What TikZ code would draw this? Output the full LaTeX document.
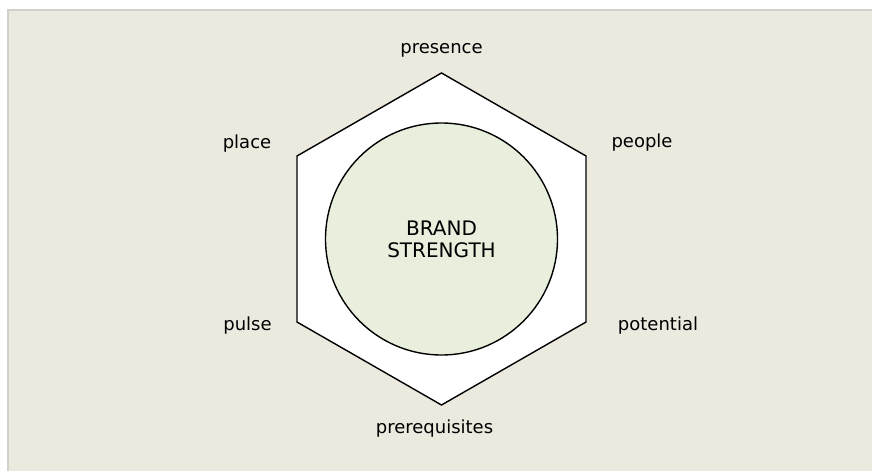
\documentclass[tikz,border=0pt]{standalone}
\usepackage{fontspec}
\setmainfont{DejaVu Sans}
\definecolor{bgbeige}{HTML}{ECE9DF}
\definecolor{bordergray}{HTML}{D2D0CA}
\definecolor{circfill}{HTML}{E9EFDD}
\tikzset{
  lbl/.style={anchor=base, inner sep=0pt, font=\fontsize{18}{22}\selectfont, text=black},
  biglbl/.style={lbl, font=\fontsize{20}{24}\selectfont},
  hexline/.style={draw=black, line width=1.4pt, fill=white, line join=miter},
  core/.style={circle, draw=black, line width=1.4pt, fill=circfill, minimum size=232pt, inner sep=0pt}
}
\begin{document}
\begin{tikzpicture}[x=1pt,y=-1pt]
\useasboundingbox (0,0) rectangle (872,471);
\fill[white] (0,0) rectangle (872,471);
\fill[bgbeige] (8,10) rectangle (872,471);
\draw[bordergray, line width=1.5pt] (8,471) -- (8,10) -- (872,10);
% hexagon
\coordinate (h1) at (441.5,73);
\coordinate (h2) at (586,156);
\coordinate (h3) at (586,322);
\coordinate (h4) at (441.5,405);
\coordinate (h5) at (297,322);
\coordinate (h6) at (297,156);
\draw[hexline] (h1) -- (h2) -- (h3) -- (h4) -- (h5) -- (h6) -- cycle;
\node[core] (brand) at (441.5,239) {};
\node[biglbl] (b1) at (441.5,235) {BRAND};
\node[biglbl] (b2) at (441.5,257) {STRENGTH};
\node[lbl] (presence) at (441.5,53) {presence};
\node[lbl] (place) at (247,148) {place};
\node[lbl] (people) at (642,147) {people};
\node[lbl] (pulse) at (247.5,330) {pulse};
\node[lbl] (potential) at (658,330) {potential};
\node[lbl] (prereq) at (434.5,433) {prerequisites};
\end{tikzpicture}
\end{document}
